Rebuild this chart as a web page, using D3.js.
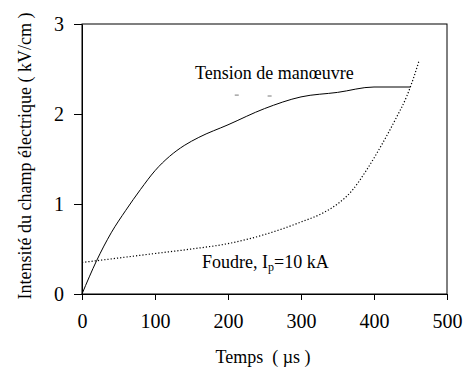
<!DOCTYPE html>
<html>
<head>
<meta charset="utf-8">
<script src="https://cdn.jsdelivr.net/npm/d3@7"></script>
<style>
  body { margin: 0; background: #fff; }
  svg { display: block; }
</style>
</head>
<body>
<svg width="467" height="369"></svg>
<script>
// values (time in µs, field in kV/cm)
const manoeuvreTime  = [0, 20, 40, 60, 80, 100, 120, 140, 160, 200, 250, 300, 350, 400, 450];
const manoeuvreField = [0, 0.37, 0.68, 0.93, 1.16, 1.37, 1.53, 1.65, 1.74, 1.88, 2.06, 2.19, 2.24, 2.3, 2.3];

const foudreTime  = [0, 50, 100, 150, 200, 250, 300, 330, 350, 370, 390, 410, 430, 445, 455, 462];
const foudreField = [0.35, 0.4, 0.45, 0.5, 0.56, 0.66, 0.8, 0.9, 1.0, 1.15, 1.38, 1.65, 1.95, 2.2, 2.42, 2.6];

// two stray dashes under the label
const strayTime  = [212, 257];
const strayField = [2.21, 2.2];

const xTicks = [0, 100, 200, 300, 400, 500];
const yTicks = [0, 1, 2, 3];

const serif = '"Liberation Serif"';
const svg = d3.select("svg");
const margin = {top: 24, right: 20, bottom: 75, left: 82};
const width = 467, height = 369;

const x = d3.scaleLinear().domain([0, 500]).range([margin.left, width - margin.right]);
const y = d3.scaleLinear().domain([0, 3]).range([height - margin.bottom, margin.top]);

// frame
svg.append("rect")
    .attr("x", x(0)).attr("y", y(3))
    .attr("width", x(500) - x(0)).attr("height", y(0) - y(3))
    .attr("fill", "none").attr("stroke", "#000").attr("stroke-width", 1);

// axes
const xAxis = svg.append("g")
    .attr("transform", `translate(0,${y(0)})`)
    .call(d3.axisBottom(x).tickValues(xTicks).tickFormat(d3.format("d"))
        .tickSize(6).tickPadding(14).tickSizeOuter(0));
const yAxis = svg.append("g")
    .attr("transform", `translate(${x(0)},0)`)
    .call(d3.axisLeft(y).tickValues(yTicks).tickFormat(d3.format("d"))
        .tickSize(8).tickPadding(10).tickSizeOuter(0));

[xAxis, yAxis].forEach(g => {
    g.select(".domain").attr("stroke", "#000");
    g.selectAll(".tick line").attr("stroke", "#000");
    g.selectAll(".tick text")
        .style("font-family", serif)
        .style("font-size", "20px")
        .attr("fill", "#000");
});

// curves
const line = d3.line().x(d => x(d[0])).y(d => y(d[1])).curve(d3.curveMonotoneX);

svg.append("path")
    .datum(d3.zip(manoeuvreTime, manoeuvreField))
    .attr("d", line)
    .attr("fill", "none").attr("stroke", "#000").attr("stroke-width", 1);

svg.append("path")
    .datum(d3.zip(foudreTime, foudreField))
    .attr("d", line)
    .attr("fill", "none").attr("stroke", "#000").attr("stroke-width", 1.2)
    .attr("stroke-dasharray", "1.2,2");

svg.selectAll(".stray")
    .data(d3.zip(strayTime, strayField))
    .join("line")
    .attr("class", "stray")
    .attr("x1", d => x(d[0]) - 2).attr("x2", d => x(d[0]) + 2)
    .attr("y1", d => y(d[1])).attr("y2", d => y(d[1]))
    .attr("stroke", "#555").attr("stroke-width", 0.8);

// labels
svg.append("text")
    .attr("x", 195).attr("y", 79)
    .style("font-family", serif).style("font-size", "18px")
    .text("Tension de manœuvre");

const fl = svg.append("text")
    .attr("x", 202).attr("y", 268)
    .style("font-family", serif).style("font-size", "18px");
fl.append("tspan").text("Foudre, I");
fl.append("tspan").attr("baseline-shift", "-25%").style("font-size", "12px").text("p");
fl.append("tspan").attr("baseline-shift", "0%").text("=10 kA");

// axis titles
svg.append("text")
    .attr("x", 263).attr("y", 363)
    .attr("text-anchor", "middle")
    .style("font-family", serif).style("font-size", "18px")
    .text("Temps\u00a0 ( µs )");

svg.append("text")
    .attr("transform", `translate(31,156) rotate(-90)`)
    .attr("text-anchor", "middle")
    .style("font-family", serif).style("font-size", "18px")
    .text("Intensité du champ électrique ( kV/cm )");
</script>
</body>
</html>
